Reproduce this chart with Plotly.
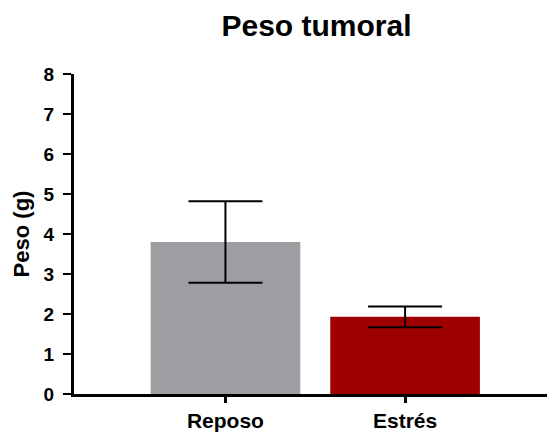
import plotly.graph_objects as go

categories = ["Reposo", "Estrés"]
means = [3.80, 1.93]
errors = [1.02, 0.26]
bar_colors = ["#9e9da2", "#9e0000"]
y_ticks = [0, 1, 2, 3, 4, 5, 6, 7, 8]

W, H = 547, 434
L, R, T, B = 74, 0, 74, 40

fig = go.Figure()
fig.add_trace(go.Bar(
    x=categories, y=means,
    marker=dict(color=bar_colors, line=dict(width=0)),
    width=0.833,
    error_y=dict(type="data", array=errors, visible=True, color="black", thickness=2, width=37),
))

fig.update_layout(
    width=W, height=H,
    margin=dict(l=L, r=R, t=T, b=B, pad=0, autoexpand=False),
    plot_bgcolor="white", paper_bgcolor="white",
    showlegend=False,
    font=dict(family="Liberation Sans, Arial, sans-serif", color="black"),
    title=dict(text="Peso tumoral", x=316.5 / W, xanchor="center", xref="container",
               y=1 - 25 / H, yanchor="middle", yref="container",
               font=dict(size=30, weight="bold", color="black")),
    xaxis=dict(
        type="category", range=[-0.843, 1.79],
        showline=True, linecolor="black", linewidth=3,
        ticks="outside", ticklen=6, tickwidth=3, tickcolor="black",
        tickfont=dict(size=21, weight="bold"),
        showgrid=False, zeroline=False,
    ),
    yaxis=dict(
        range=[0, 8], tickvals=y_ticks, automargin=True,
        showline=True, linecolor="black", linewidth=3,
        ticks="outside", ticklen=8, tickwidth=2, tickcolor="black",
        tickfont=dict(size=19, weight="bold"), ticklabelstandoff=5,
        showgrid=False, zeroline=False,
        title=dict(text="Peso (g)", font=dict(size=22, weight="bold"), standoff=8),
    ),
)

fig.write_html("out.html", config={"displayModeBar": False},
               post_script="document.body.style.margin='0px';document.body.style.overflow='hidden';")
